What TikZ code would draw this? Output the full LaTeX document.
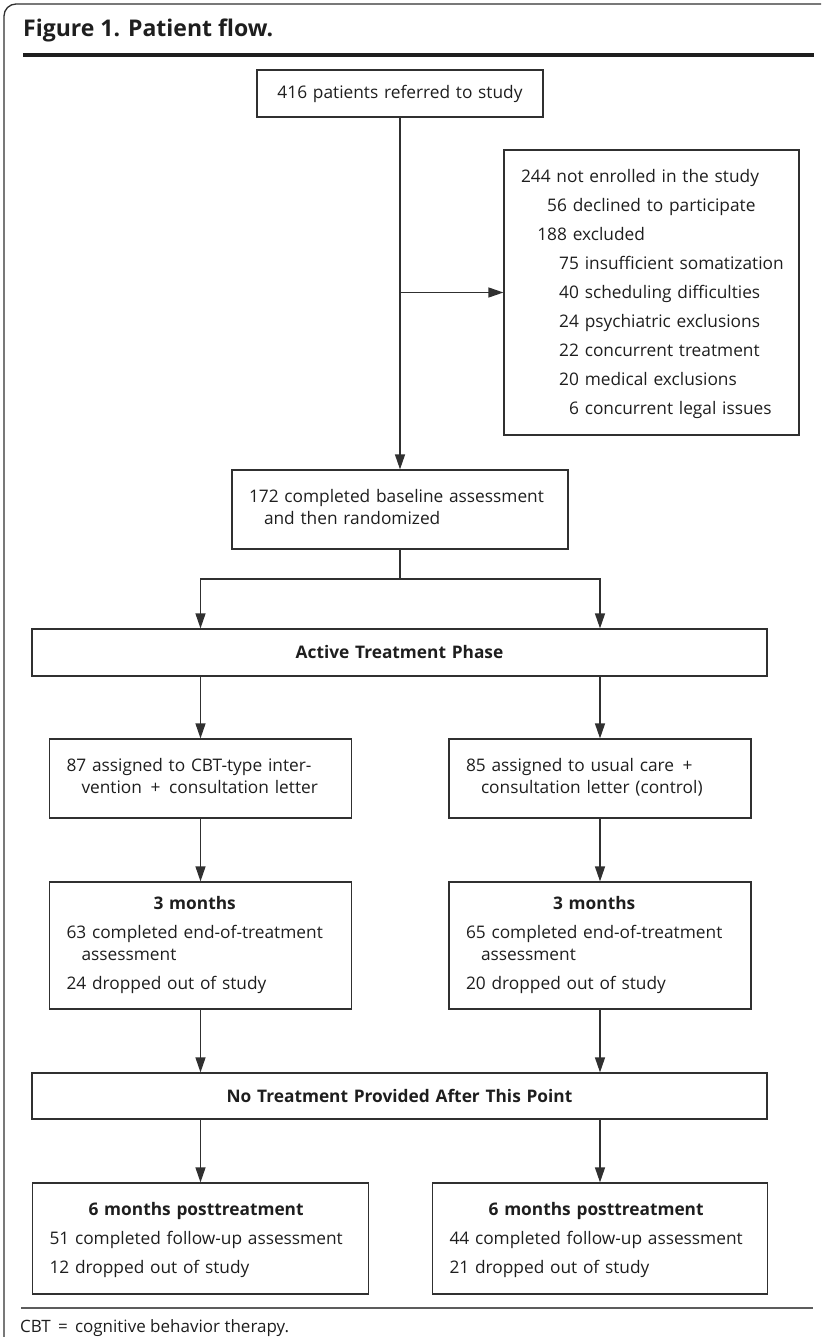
\documentclass[tikz,border=0pt]{standalone}
\usepackage{fontspec}
\setmainfont{Open Sans}
\usetikzlibrary{arrows.meta}
\definecolor{inkc}{HTML}{1E1E1E}
\definecolor{linec}{HTML}{303030}
\definecolor{rulec}{HTML}{5C5C5C}
\newcommand{\cnt}[2]{\makebox[#1][r]{#2}}

\begin{document}
\begin{tikzpicture}[x=1pt, y=-1pt,
    box/.style={draw=linec, line width=1.2pt, text=inkc, inner xsep=17pt, inner ysep=0pt,
                align=left, font=\fontsize{17.3}{22}\selectfont},
    band/.style={box, align=center, font=\fontsize{17.3}{22}\selectfont\bfseries},
    arr/.style={draw=linec, line width=1.2pt, -{Triangle[length=15pt,width=10pt]}},
    link/.style={draw=linec, line width=1.2pt}]
  \useasboundingbox (0,0) rectangle (821,1337);

  % Frame and heading
  \draw[linec, line width=1.3pt, rounded corners=12pt] (821,4) -- (4,4) -- (4,1337);
  \node[anchor=base west, inner sep=0pt, text=inkc, font=\fontsize{23}{26}\selectfont\bfseries] (title) at (23,37) {Figure 1. Patient flow.};
  \draw[inkc, line width=4pt] (23,55) -- (814,55);

  % Enrolment
  \node[box, align=center, text width=252pt, minimum height=47pt] (ref) at (400,93.5) {416 patients referred to study};
  \node[box, text width=261pt, minimum height=285pt, font=\fontsize{17.3}{29}\selectfont] (excl) at (651.5,292.5) {\noindent\begin{tabular}{@{}l@{}}
      244 not enrolled in the study\\
      \cnt{46pt}{56} declined to participate\\
      \cnt{46pt}{188} excluded\\
      \cnt{58pt}{75} insufficient somatization\\
      \cnt{58pt}{40} scheduling difficulties\\
      \cnt{58pt}{24} psychiatric exclusions\\
      \cnt{58pt}{22} concurrent treatment\\
      \cnt{58pt}{20} medical exclusions\\
      \cnt{58pt}{6} concurrent legal issues
    \end{tabular}};
  \node[box, text width=302pt, minimum height=79pt] (rand) at (400,509.5) {\noindent\begin{tabular}{@{}l@{}}
      172 completed baseline assessment\\
      \hspace*{15pt}and then randomized
    \end{tabular}};

  \coordinate (split) at (400,292.5);
  \coordinate (fork) at (400,579);
  \draw[arr] (ref) -- (rand);
  \draw[arr] (split) -- (excl.west);
  \draw[link] (rand) -- (fork);

  % Active treatment
  \node[band, text width=701pt, minimum height=47pt] (active) at (399.5,652.5) {Active Treatment Phase};
  \node[box, text width=268pt, minimum height=79pt] (cbt) at (200.5,778.5) {\noindent\begin{tabular}{@{}l@{}}
      87 assigned to CBT-type inter-\\
      \hspace*{15pt}vention \,+\, consultation letter
    \end{tabular}};
  \node[box, text width=268pt, minimum height=79pt] (usual) at (600,778.5) {\noindent\begin{tabular}{@{}l@{}}
      85 assigned to usual care \,+\\
      \hspace*{15pt}consultation letter (control)
    \end{tabular}};
  \node[box, text width=268pt, minimum height=127pt] (cbtend) at (200.5,945.5) {\noindent\begin{tabular}{@{}l@{}}
      \multicolumn{1}{@{}c@{}}{\bfseries 3 months}\\[7pt]
      63 completed end-of-treatment\\
      \hspace*{15pt}assessment\\[7pt]
      24 dropped out of study
    \end{tabular}};
  \node[box, text width=268pt, minimum height=127pt] (usualend) at (600,945.5) {\noindent\begin{tabular}{@{}l@{}}
      \multicolumn{1}{@{}c@{}}{\bfseries 3 months}\\[7pt]
      65 completed end-of-treatment\\
      \hspace*{15pt}assessment\\[7pt]
      20 dropped out of study
    \end{tabular}};

  \draw[arr] (fork) -| (active.north -| cbt.north);
  \draw[arr] (fork) -| (active.north -| usual.north);
  \draw[arr] (active.south -| cbt.north) -- (cbt);
  \draw[arr] (active.south -| usual.north) -- (usual);
  \draw[arr] (cbt) -- (cbtend);
  \draw[arr] (usual) -- (usualend);

  % Follow-up
  \node[band, text width=701pt, minimum height=46pt] (notx) at (399.5,1096) {No Treatment Provided After This Point};
  \node[box, text width=302pt, minimum height=111pt, font=\fontsize{17.3}{29}\selectfont] (cbtfu) at (200.5,1238.5) {\noindent\begin{tabular}{@{}l@{}}
      \multicolumn{1}{@{}c@{}}{\bfseries 6 months posttreatment}\\
      51 completed follow-up assessment\\
      12 dropped out of study
    \end{tabular}};
  \node[box, text width=301pt, minimum height=111pt, font=\fontsize{17.3}{29}\selectfont] (usualfu) at (600,1238.5) {\noindent\begin{tabular}{@{}l@{}}
      \multicolumn{1}{@{}c@{}}{\bfseries 6 months posttreatment}\\
      44 completed follow-up assessment\\
      21 dropped out of study
    \end{tabular}};

  \draw[arr] (cbtend) -- (cbtend.south |- notx.north);
  \draw[arr] (usualend) -- (usualend.south |- notx.north);
  \draw[arr] (notx.south -| cbtfu.north) -- (cbtfu);
  \draw[arr] (notx.south -| usualfu.north) -- (usualfu);

  % Footnote
  \draw[rulec, line width=1.6pt] (21,1308) -- (813,1308);
  \node[anchor=base west, inner sep=0pt, text=inkc, font=\fontsize{17}{19}\selectfont] (note) at (20,1332) {CBT \,=\, cognitive behavior therapy.};
\end{tikzpicture}
\end{document}
